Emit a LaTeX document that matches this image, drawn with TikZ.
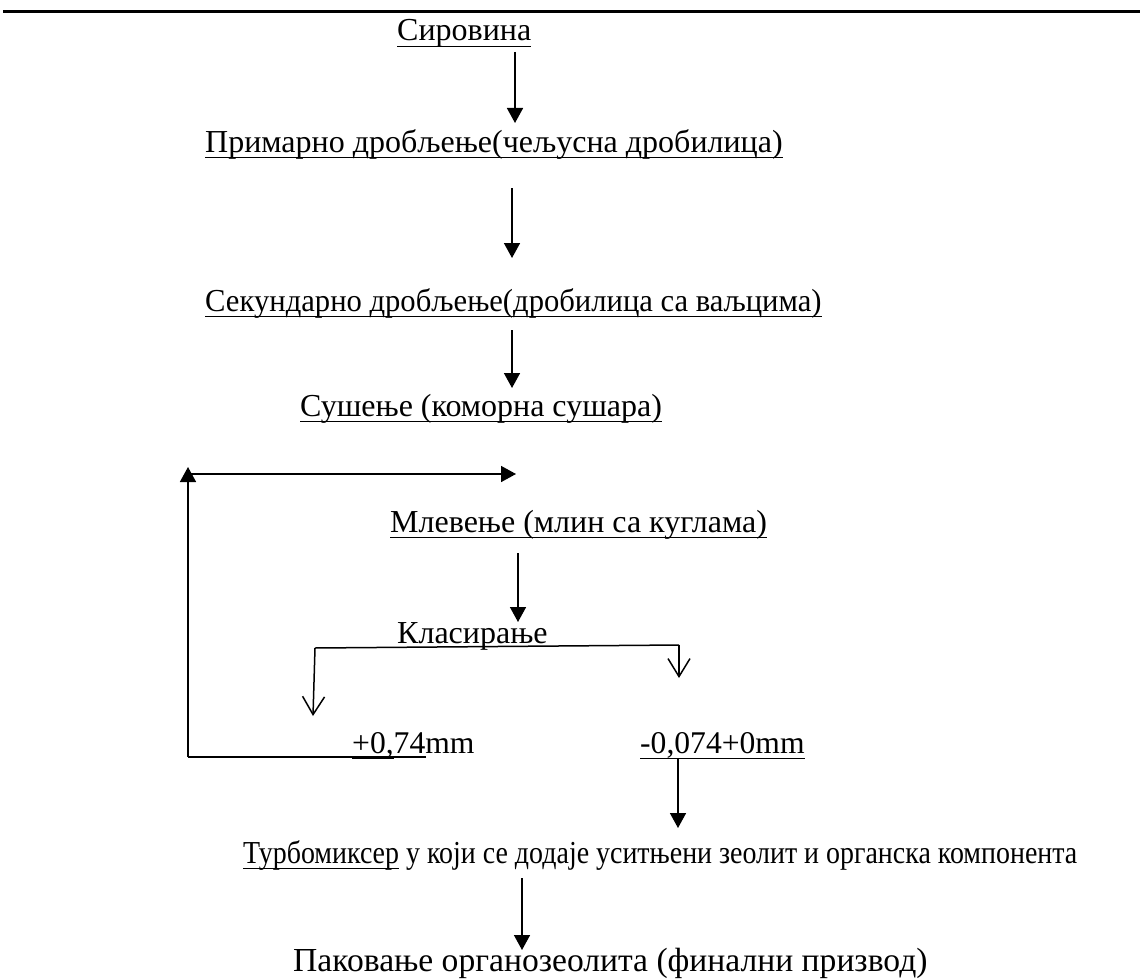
\documentclass[tikz,border=0pt]{standalone}
\usepackage{fontspec}
\usepackage{graphicx}
\setmainfont{Liberation Serif}
\usetikzlibrary{arrows.meta}
\newcommand\myul[1]{\setbox0\hbox{#1}\rlap{\rule[-6.3pt]{\wd0}{1.6pt}}\box0\relax}
\newcommand\myulthick[1]{\setbox0\hbox{#1}\rlap{\rule[-5.6pt]{\wd0}{3pt}}\box0\relax}
\newcommand\fsz[1]{\fontsize{#1}{#1}\selectfont}
\begin{document}
\begin{tikzpicture}[x=1pt,y=-1pt,
  lbl/.style={anchor=base west, inner sep=0pt, font=\fsz{32}},
  flow/.style={line width=1.6pt, -{Triangle[length=15pt,width=16pt]}},
  split/.style={line width=1.5pt, -{Straight Barb[length=18pt,width=22pt,line width=1.5pt]}},
  plain/.style={line width=1.5pt},
  rulestyle/.style={line width=3pt}]
\useasboundingbox (0,0) rectangle (1140,979);
\coordinate (r0) at (3,12);
\coordinate (r1) at (1140,12);
\draw[rulestyle] (r0) -- (r1);

\node[lbl] (s1) at (397,41) {\myul{Сировина}};
\node[lbl] (s2) at (205,152) {\myul{Примарно дробљење(чељусна дробилица)}};
\node[lbl] (s3) at (205,311) {\scalebox{0.957}[1]{\myul{Секундарно дробљење(дробилица са ваљцима)}}};
\node[lbl] (s4) at (300,416) {\myul{Сушење (коморна сушара)}};
\node[lbl] (s5) at (390,532) {\myul{Млевење (млин са куглама)}};
\node[lbl] (s6) at (397,643) {Класирање};
\node[lbl, font=\fsz{31.6}] (s7) at (352,753) {\myulthick{+0,}74mm};
\node[lbl, font=\fsz{31.6}] (s8) at (640,753) {\myul{-0,074+0mm}};
\node[lbl] (s9) at (243,863) {\scalebox{0.873}[1]{\myul{Турбомиксер} у који се додаје уситњени зеолит и органска компонента}};
\node[lbl, font=\fsz{33.6}] (s10) at (293,971) {Паковање органозеолита (финални призвод)};

% main flow arrows
\coordinate (a1s) at (515,52);  \coordinate (a1e) at (515,123);
\coordinate (a2s) at (512,188); \coordinate (a2e) at (512,258);
\coordinate (a3s) at (512,330); \coordinate (a3e) at (512,388);
\coordinate (a5s) at (518,553); \coordinate (a5e) at (518,622);
\coordinate (a8s) at (678,759); \coordinate (a8e) at (678,828);
\coordinate (a9s) at (522,878); \coordinate (a9e) at (522,950);
\draw[flow] (a1s) -- (a1e);
\draw[flow] (a2s) -- (a2e);
\draw[flow] (a3s) -- (a3e);
\draw[flow] (a5s) -- (a5e);
\draw[flow] (a8s) -- (a8e);
\draw[flow] (a9s) -- (a9e);

% classification split
\coordinate (bl) at (315,648);
\coordinate (br) at (679,645);
\coordinate (blt) at (313,716);
\coordinate (brt) at (679,678);
\draw[plain] (bl) -- (br);
\draw[split] (bl) -- (blt);
\draw[split] (br) -- (brt);

% recycle loop
\coordinate (lend) at (426,757);
\coordinate (lc) at (188,757);
\coordinate (lt) at (188,467);
\coordinate (ltop) at (188,474);
\coordinate (lre) at (516,474);
\draw[plain] (lend) -- (lc);
\draw[flow] (lc) -- (lt);
\draw[flow] (ltop) -- (lre);
\end{tikzpicture}
\end{document}
